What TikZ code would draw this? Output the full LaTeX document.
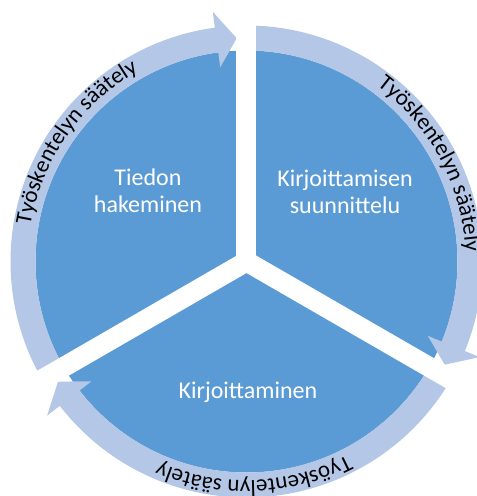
\documentclass[tikz,border=0pt]{standalone}
\usepackage{fontspec}
\setmainfont{Carlito}
\usetikzlibrary{decorations.text}
\definecolor{sectorblue}{HTML}{5B9BD5}
\definecolor{ringblue}{HTML}{B4C7E7}
\newcommand{\curvefont}{\fontsize{23}{23}\selectfont}
\begin{document}
\begin{tikzpicture}[x=1pt,y=1pt,
  ringarrow/.style={fill=ringblue, draw=none},
  gapline/.style={draw=white, line width=20pt},
  sectortext/.style={text=white, font=\fontsize{24}{27}\selectfont, align=center, inner sep=0pt},
  curvetext/.style={decorate, decoration={text along path, text align=center,
      text={|\curvefont|Työskentelyn säätely}}}
]
\useasboundingbox (-246.5,-234.5) rectangle (230.5,261.5);
\coordinate (c) at (0,0);
% pie
\fill[sectorblue] (c) circle[radius=211pt];
% ring arrows (clockwise)
\fill[ringarrow] (210:236pt) arc[start angle=210, end angle=97.7, radius=236pt]
  -- (97.7:252pt) -- (92.5:223.5pt) -- (97.7:196pt) -- (97.7:211pt)
  arc[start angle=97.7, end angle=210, radius=211pt] -- cycle;
\fill[ringarrow] (90:236pt) arc[start angle=90, end angle=-22.3, radius=236pt]
  -- (-22.3:252pt) -- (-27.5:223.5pt) -- (-22.3:196pt) -- (-22.3:211pt)
  arc[start angle=-22.3, end angle=90, radius=211pt] -- cycle;
\fill[ringarrow] (330:236pt) arc[start angle=330, end angle=217.7, radius=236pt]
  -- (217.7:252pt) -- (212.5:223.5pt) -- (217.7:196pt) -- (217.7:211pt)
  arc[start angle=217.7, end angle=330, radius=211pt] -- cycle;
% gaps
\coordinate (g1) at (90:275pt);
\coordinate (g2) at (210:275pt);
\coordinate (g3) at (330:275pt);
\draw[gapline] (c) -- (g1);
\draw[gapline] (c) -- (g2);
\draw[gapline] (c) -- (g3);
% sector texts
\node[sectortext] (tiedon) at (-98.5,71) {Tiedon\\hakeminen};
\node[sectortext] (suunn) at (98.5,70) {Kirjoittamisen\\suunnittelu};
\node[sectortext, anchor=base] (kirj) at (1.5,-136.5) {Kirjoittaminen};
% curved texts
\path[curvetext] (175:219pt) arc[start angle=175, end angle=115, radius=219pt];
\path[curvetext] (58:219pt) arc[start angle=58, end angle=-2, radius=219pt];
\path[curvetext] (-58:219pt) arc[start angle=-58, end angle=-118, radius=219pt];
\end{tikzpicture}
\end{document}
